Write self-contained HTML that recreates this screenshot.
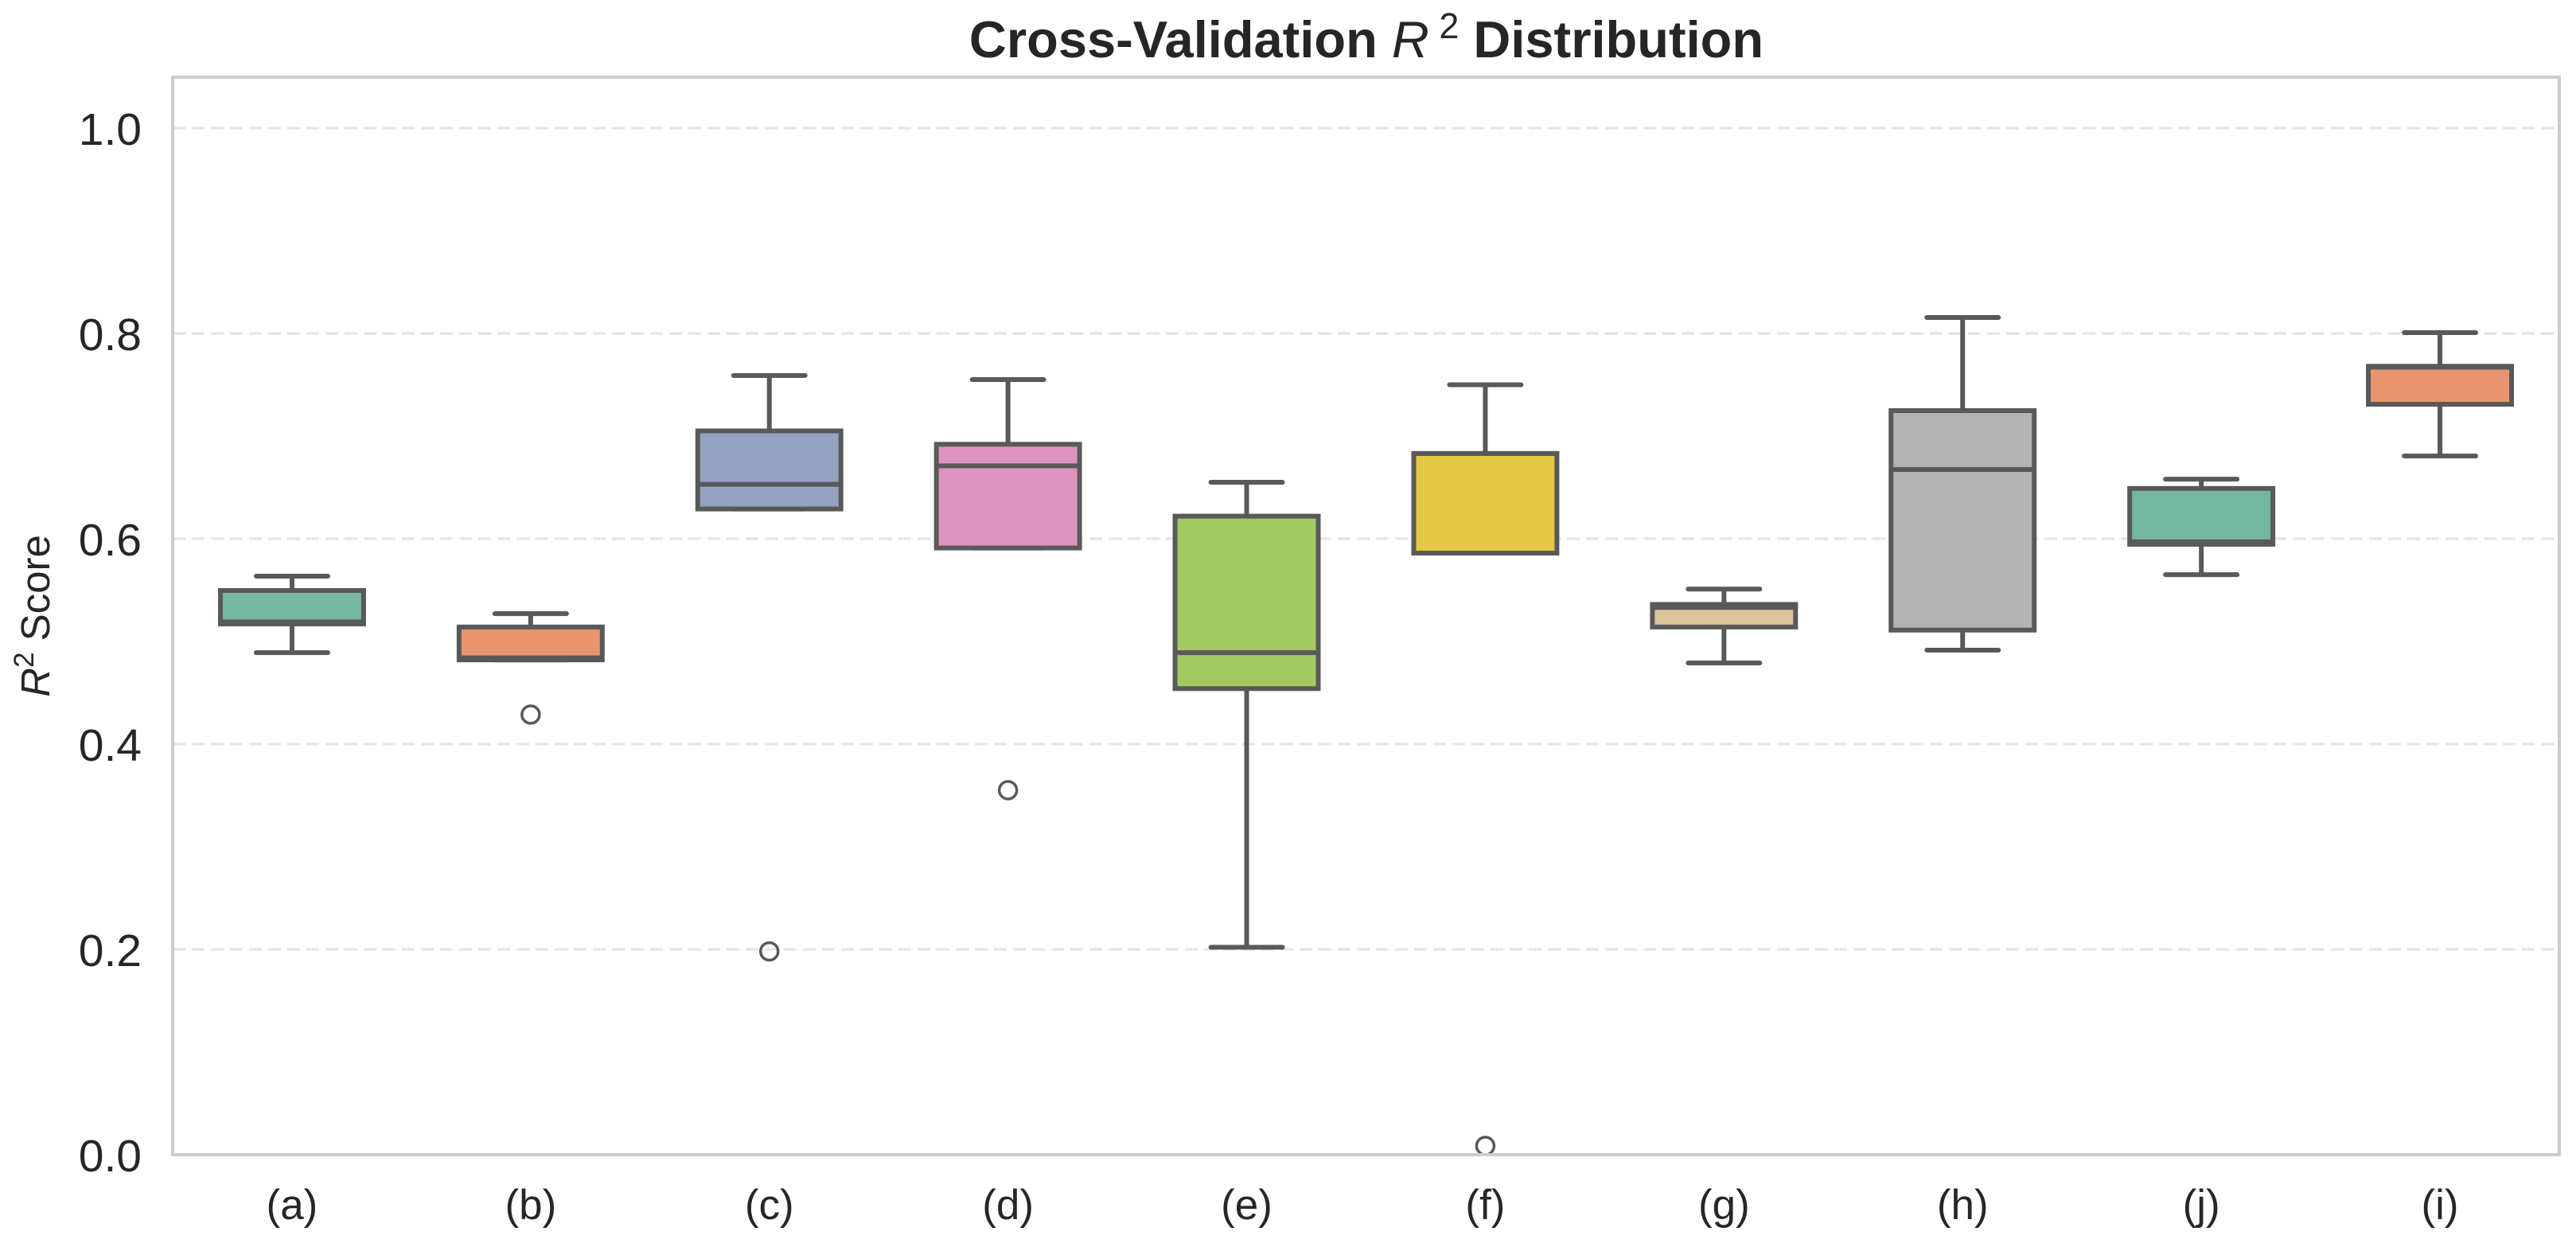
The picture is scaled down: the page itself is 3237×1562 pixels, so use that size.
<!DOCTYPE html>
<html><head><meta charset="utf-8"><style>
html,body{margin:0;padding:0;background:#fff;}
svg{display:block;font-family:"Liberation Sans",Arial,sans-serif;}
</style></head><body>
<svg id="chart" width="3237" height="1562" viewBox="0 0 3237 1562" xmlns="http://www.w3.org/2000/svg">
<rect width="3237" height="1562" fill="#fff"/>
<text x="1717" y="72" text-anchor="middle" font-size="65" font-weight="bold" fill="#262626">Cross-Validation <tspan font-style="italic" font-weight="normal">R</tspan><tspan font-size="45" dy="-24" font-weight="normal"> 2</tspan><tspan dy="24"> Distribution</tspan></text>
<text transform="translate(62,774) rotate(-90)" text-anchor="middle" font-size="51" fill="#262626"><tspan font-style="italic">R</tspan><tspan font-size="35" dy="-20">2</tspan><tspan dy="20"> Score</tspan></text>
<g id="grid"></g>
<g id="yticks"></g>
<g id="xticks"></g>
<g id="boxes"></g>
<rect x="217" y="97" width="2999" height="1354" fill="none" stroke="#cccccc" stroke-width="4"/>
</svg>
<script>
const categories = ["(a)","(b)","(c)","(d)","(e)","(f)","(g)","(h)","(j)","(i)"];
const whiskerLow  = [0.489,0.482,0.629,0.591,0.202,0.586,0.479,0.4915,0.565,0.6806];
const q1Values    = [0.517,0.482,0.629,0.591,0.454,0.586,0.514,0.511,0.5946,0.731];
const medians     = [0.519,0.484,0.653,0.671,0.489,0.683,0.533,0.6674,0.597,0.767];
const q3Values    = [0.5496,0.514,0.705,0.692,0.622,0.683,0.536,0.7248,0.649,0.768];
const whiskerHigh = [0.5636,0.527,0.759,0.755,0.655,0.750,0.551,0.8155,0.658,0.8008];
const outliers    = [[],[0.4287],[0.198],[0.355],[],[0.0085],[],[],[],[]];
const yTicks = [0.0,0.2,0.4,0.6,0.8,1.0];
const yTickLabels = ["0.0","0.2","0.4","0.6","0.8","1.0"];
const colors = ["#75b7a0","#e8956f","#95a3c3","#dc93c0","#a2c95f","#e5c845","#dcc39e","#b3b3b3","#75b7a0","#e8956f"];

const NS="http://www.w3.org/2000/svg";
const L=217,R=3216,T=97,B=1451,yMin=0,yMax=1.0496;
const y=v=>B-(v-yMin)/(yMax-yMin)*(B-T);
const band=(R-L)/categories.length;
const x=i=>L+band*(i+0.5);
const bw=band*0.6;
function mk(tag,attrs,parent){const e=document.createElementNS(NS,tag);for(const k in attrs)e.setAttribute(k,attrs[k]);parent.appendChild(e);return e;}
const grid=document.getElementById('grid'),yt=document.getElementById('yticks'),xt=document.getElementById('xticks'),bx=document.getElementById('boxes');
yTicks.forEach((v,i)=>{
  const g=mk('line',{x1:L,x2:R,y1:y(v),y2:y(v),stroke:'#e3e3e3','stroke-width':3,'stroke-dasharray':'16,8'},grid);
  
  
  const t=mk('text',{x:178,y:y(v)+21,'text-anchor':'end','font-size':57,fill:'#262626'},yt);
  t.textContent=yTickLabels[i];
  
  
});
categories.forEach((c,i)=>{
  const t=mk('text',{x:x(i),y:1532,'text-anchor':'middle','font-size':53,fill:'#262626'},xt);
  t.textContent=c;
  
  
  const g=mk('g',{},bx);
  
  
  const cx=x(i),st='#595959',sw=6;
  mk('line',{x1:cx,x2:cx,y1:y(whiskerHigh[i]),y2:y(q3Values[i]),stroke:st,'stroke-width':sw},g);
  mk('line',{x1:cx,x2:cx,y1:y(q1Values[i]),y2:y(whiskerLow[i]),stroke:st,'stroke-width':sw},g);
  mk('line',{x1:cx-bw/4,x2:cx+bw/4,y1:y(whiskerHigh[i]),y2:y(whiskerHigh[i]),stroke:st,'stroke-width':sw,'stroke-linecap':'round'},g);
  mk('line',{x1:cx-bw/4,x2:cx+bw/4,y1:y(whiskerLow[i]),y2:y(whiskerLow[i]),stroke:st,'stroke-width':sw,'stroke-linecap':'round'},g);
  mk('rect',{x:cx-bw/2,y:y(q3Values[i]),width:bw,height:Math.max(1,y(q1Values[i])-y(q3Values[i])),fill:colors[i],stroke:st,'stroke-width':sw},g);
  mk('line',{x1:cx-bw/2,x2:cx+bw/2,y1:y(medians[i]),y2:y(medians[i]),stroke:st,'stroke-width':sw},g);
  outliers[i].forEach(o=>{
    const ci=mk('circle',{cx:cx,cy:y(o),r:11,fill:'none',stroke:st,'stroke-width':3.5},g);
    
    
  });
});
</script>
</body></html>
